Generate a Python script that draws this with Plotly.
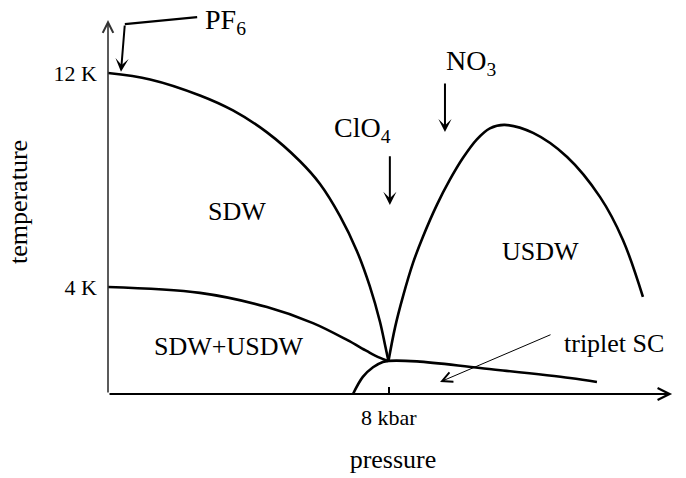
import plotly.graph_objects as go

# ---- data (pressure in kbar, temperature in K) ----
sdw_p = [0, 1.2, 2.62, 3.56, 4.53, 5.47, 6.04, 6.61, 7.09, 7.46, 7.75, 7.89, 7.99]
sdw_T = [12, 11.76, 11.16, 10.6, 9.78, 8.7, 7.85, 6.65, 5.35, 4.02, 2.69, 1.85, 1.23]

inner_p = [0, 2.62, 4.53, 5.84, 6.81, 7.38, 7.7, 7.99]
inner_T = [4, 3.78, 3.25, 2.65, 2.02, 1.6, 1.38, 1.23]

usdw_p = [7.99, 8.18, 8.40, 8.69, 8.97, 9.37, 9.74, 10.11, 10.51, 10.88, 11.3,
          12.11, 13.08, 14.02, 14.67, 15.24]
usdw_T = [1.23, 2.50, 3.63, 4.90, 5.87, 7.07, 8.01, 8.82, 9.52, 9.93, 10.06,
          9.76, 8.86, 7.36, 5.76, 3.63]

sc_p = [6.98, 7.26, 7.55, 7.83, 8.0, 8.8, 10.6, 13.16, 13.93]
sc_T = [0, 0.64, 1.0, 1.2, 1.24, 1.22, 0.97, 0.6, 0.45]

x_ticks = [8]
x_ticktext = ["8 kbar"]
y_ticks = [4, 12]
y_ticktext = ["4 K", "12 K"]

axis_end_p = 16.07
axis_end_T = 13.98

# PF6 leader line (p, T)
pf6_line_p = [2.54, 0.48]
pf6_line_T = [14.09, 13.83]
pf6_tip = (0.37, 12.05)

clo4_tail = (8.03, 8.94)
clo4_tip = (8.03, 7.07)
no3_tail = (9.60, 11.66)
no3_tip = (9.60, 9.79)
sc_arrow_tail = (12.65, 2.24)
sc_arrow_tip = (9.46, 0.45)

region_labels = [
    ("SDW", 3.68, 6.84),
    ("SDW+USDW", 3.42, 1.79),
    ("USDW", 12.31, 5.31),
]

FONT = "Liberation Serif"
BIG = 26
MOL = 28

fig = go.Figure()

for px_, py_ in [(sdw_p, sdw_T), (inner_p, inner_T), (usdw_p, usdw_T), (sc_p, sc_T)]:
    fig.add_trace(go.Scatter(x=px_, y=py_, mode="lines",
                             line=dict(color="black", width=2.6, shape="spline", smoothing=1.0),
                             hoverinfo="skip", showlegend=False))

fig.add_trace(go.Scatter(x=pf6_line_p, y=pf6_line_T, mode="lines",
                         line=dict(color="black", width=2.2), showlegend=False,
                         hoverinfo="skip"))

annotations = []
# axes as arrows
annotations.append(dict(x=axis_end_p, y=0, ax=0, ay=0, xref="x", yref="y", axref="x", ayref="y",
                        showarrow=True, arrowhead=5, arrowsize=1.3, arrowwidth=1.8,
                        arrowcolor="black", text=""))
annotations.append(dict(x=0, y=axis_end_T, ax=0, ay=0, xref="x", yref="y", axref="x", ayref="y",
                        showarrow=True, arrowhead=5, arrowsize=1.3, arrowwidth=1.6,
                        arrowcolor="#333", text=""))
# molecule arrows
for tail, tip in [((pf6_line_p[1], pf6_line_T[1]), pf6_tip), (clo4_tail, clo4_tip), (no3_tail, no3_tip)]:
    annotations.append(dict(x=tip[0], y=tip[1], ax=tail[0], ay=tail[1], xref="x", yref="y",
                            axref="x", ayref="y", showarrow=True, arrowhead=3, arrowsize=1.1,
                            arrowwidth=2, arrowcolor="black", text=""))
annotations.append(dict(x=sc_arrow_tip[0], y=sc_arrow_tip[1], ax=sc_arrow_tail[0], ay=sc_arrow_tail[1],
                        xref="x", yref="y", axref="x", ayref="y", showarrow=True, arrowhead=5,
                        arrowsize=2, arrowwidth=1, arrowcolor="black", text=""))

# texts
annotations.append(dict(x=2.71, y=13.94, xref="x", yref="y", text="PF<sub>6</sub>", showarrow=False,
                        xanchor="left", yanchor="middle", font=dict(family=FONT, size=MOL, color="black")))
annotations.append(dict(x=7.26, y=9.9, xref="x", yref="y", text="ClO<sub>4</sub>", showarrow=False,
                        xanchor="center", yanchor="middle", font=dict(family=FONT, size=MOL, color="black")))
annotations.append(dict(x=10.34, y=12.4, xref="x", yref="y", text="NO<sub>3</sub>", showarrow=False,
                        xanchor="center", yanchor="middle", font=dict(family=FONT, size=MOL, color="black")))
annotations.append(dict(x=12.93, y=1.87, xref="x", yref="y", text="triplet SC", showarrow=False,
                        xanchor="left", yanchor="middle", font=dict(family=FONT, size=BIG, color="black")))
for txt, xx, yy in region_labels:
    annotations.append(dict(x=xx, y=yy, xref="x", yref="y", text=txt, showarrow=False,
                            xanchor="center", yanchor="middle",
                            font=dict(family=FONT, size=BIG, color="black")))

fig.update_layout(
    width=686, height=478,
    margin=dict(l=108, r=8, t=10, b=84),
    paper_bgcolor="white", plot_bgcolor="white",
    showlegend=False,
    font=dict(family=FONT, color="black"),
    annotations=annotations,
    xaxis=dict(range=[0, 16.239], showgrid=False, zeroline=False, showline=False, automargin=False,
               tickvals=x_ticks, ticktext=x_ticktext, ticks="inside", ticklen=7,
               tickwidth=2, tickcolor="black", ticklabelstandoff=8,
               tickfont=dict(family=FONT, size=22, color="black"),
               title=dict(text="pressure", font=dict(family=FONT, size=26, color="black"), standoff=20)),
    yaxis=dict(range=[0, 14.355], showgrid=False, zeroline=False, showline=False, automargin=False,
               tickvals=y_ticks, ticktext=y_ticktext, ticks="", ticklabelstandoff=10,
               tickfont=dict(family=FONT, size=22, color="black"),
               title=dict(text="temperature", font=dict(family=FONT, size=26, color="black"), standoff=18)),
)

fig.write_html("out.html", config={"displayModeBar": False},
               post_script="document.body.style.margin='0px';")
